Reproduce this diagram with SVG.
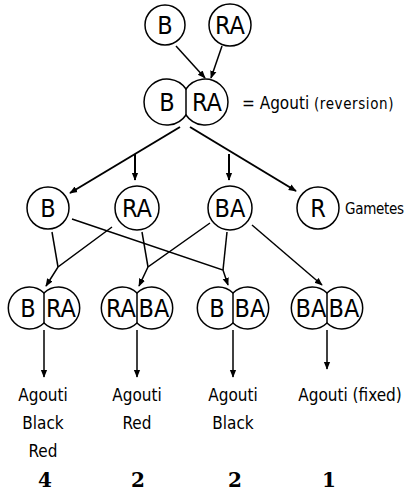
<svg xmlns="http://www.w3.org/2000/svg" width="413" height="492" viewBox="0 0 413 492">
<defs>
<marker id="ah" viewBox="0 0 10 10" refX="9" refY="5" markerWidth="8" markerHeight="8" markerUnits="userSpaceOnUse" orient="auto">
<path d="M0,1 L10,5 L0,9 Z" fill="#000"/>
</marker>
</defs>
<style>
.c{fill:#fff;stroke:#000;stroke-width:1.5}
.g{font-family:"DejaVu Sans Condensed","Liberation Sans Narrow","DejaVu Sans",sans-serif;font-size:25px;text-anchor:middle;fill:#000}
.l{font-family:"DejaVu Sans Condensed","DejaVu Sans",sans-serif;font-size:17px;text-anchor:middle;fill:#000}
.s{font-family:"DejaVu Sans Condensed","DejaVu Sans",sans-serif;font-size:17px;text-anchor:start;fill:#000}
.gm{font-family:"DejaVu Sans Condensed","DejaVu Sans",sans-serif;font-size:15px;text-anchor:start;fill:#000;letter-spacing:-0.3px}
.n{font-family:"DejaVu Serif","Liberation Serif",serif;font-size:20px;font-weight:bold;text-anchor:middle;fill:#000}
.e{fill:none;stroke:#000;stroke-width:1.5}
.a{fill:none;stroke:#000;stroke-width:1.5;marker-end:url(#ah)}
.t{fill:none;stroke:#000;stroke-width:2;marker-end:url(#ah)}
</style>
<rect width="413" height="492" fill="#fff"/>
<g id="connectors">
<line class="a" x1="176" y1="46" x2="205" y2="78"/>
<line class="a" x1="222" y1="46" x2="211" y2="78"/>
<line class="t" x1="180" y1="127" x2="70" y2="193"/>
<line class="t" x1="190" y1="127" x2="296" y2="191"/>
<line class="t" x1="135" y1="154" x2="135" y2="180"/>
<line class="t" x1="229" y1="154" x2="229" y2="180"/>
<polyline class="e" points="52,232 58,267"/>
<polyline class="a" points="112,227 58,267 46,286"/>
<polyline class="e" points="142,232 148,267"/>
<polyline class="a" points="210,223 148,267 139,286"/>
<polyline class="e" points="227,232 223,270"/>
<polyline class="a" points="72,219 223,270 228,285"/>
<line class="a" x1="252" y1="225" x2="322" y2="285"/>
<line class="a" x1="44" y1="330" x2="44" y2="377"/>
<line class="a" x1="137" y1="330" x2="137" y2="377"/>
<line class="a" x1="233" y1="330" x2="233" y2="377"/>
<line class="a" x1="327" y1="330" x2="327" y2="369"/>
</g>
<g id="parentB"><circle class="c" cx="165" cy="25" r="20"/><text class="g" x="165" y="34">B</text></g>
<g id="parentRA"><circle class="c" cx="230" cy="25" r="21"/><text class="g" x="230" y="34">RA</text></g>
<g id="hybrid">
<path class="c" d="M186,89 A23,23 0 1 0 186,115 A23,23 0 1 0 186,89 Z"/>
<line class="e" x1="186" y1="89" x2="186" y2="115"/>
<text class="g" x="167" y="111">B</text>
<text class="g" x="207" y="111">RA</text>
<text class="s" x="242" y="109">= Agouti <tspan font-size="15" letter-spacing="0.6">(reversion)</tspan></text>
</g>
<g id="gB"><circle class="c" cx="48" cy="208" r="21"/><text class="g" x="48" y="217">B</text></g>
<g id="gRA"><circle class="c" cx="137" cy="208" r="22"/><text class="g" x="137" y="217">RA</text></g>
<g id="gBA"><circle class="c" cx="230" cy="208" r="22"/><text class="g" x="230" y="217">BA</text></g>
<g id="gR"><circle class="c" cx="318" cy="208" r="21"/><text class="g" x="318" y="217">R</text><text class="gm" x="345" y="214">Gametes</text></g>
<g id="o1">
<path class="c" d="M44,293 A21,21 0 1 0 44,323 A21,21 0 1 0 44,293 Z"/>
<line class="e" x1="44" y1="293" x2="44" y2="323"/>
<text class="g" x="28" y="317">B</text><text class="g" x="61" y="317">RA</text>
<text class="l" x="43" y="401">Agouti</text><text class="l" x="43" y="429">Black</text><text class="l" x="43" y="457">Red</text>
<text class="n" x="45" y="487">4</text>
</g>
<g id="o2">
<path class="c" d="M137,293 A21,21 0 1 0 137,323 A21,21 0 1 0 137,293 Z"/>
<line class="e" x1="137" y1="293" x2="137" y2="323"/>
<text class="g" x="121" y="317">RA</text><text class="g" x="154" y="317">BA</text>
<text class="l" x="137" y="401">Agouti</text><text class="l" x="137" y="429">Red</text>
<text class="n" x="138" y="487">2</text>
</g>
<g id="o3">
<path class="c" d="M233,293 A21,21 0 1 0 233,323 A21,21 0 1 0 233,293 Z"/>
<line class="e" x1="233" y1="293" x2="233" y2="323"/>
<text class="g" x="217" y="317">B</text><text class="g" x="250" y="317">BA</text>
<text class="l" x="233" y="401">Agouti</text><text class="l" x="233" y="429">Black</text>
<text class="n" x="235" y="487">2</text>
</g>
<g id="o4">
<path class="c" d="M327,293 A21,21 0 1 0 327,323 A21,21 0 1 0 327,293 Z"/>
<line class="e" x1="327" y1="293" x2="327" y2="323"/>
<text class="g" x="311" y="317">BA</text><text class="g" x="344" y="317">BA</text>
<text class="l" x="350" y="401">Agouti (fixed)</text>
<text class="n" x="329" y="487">1</text>
</g>
</svg>
